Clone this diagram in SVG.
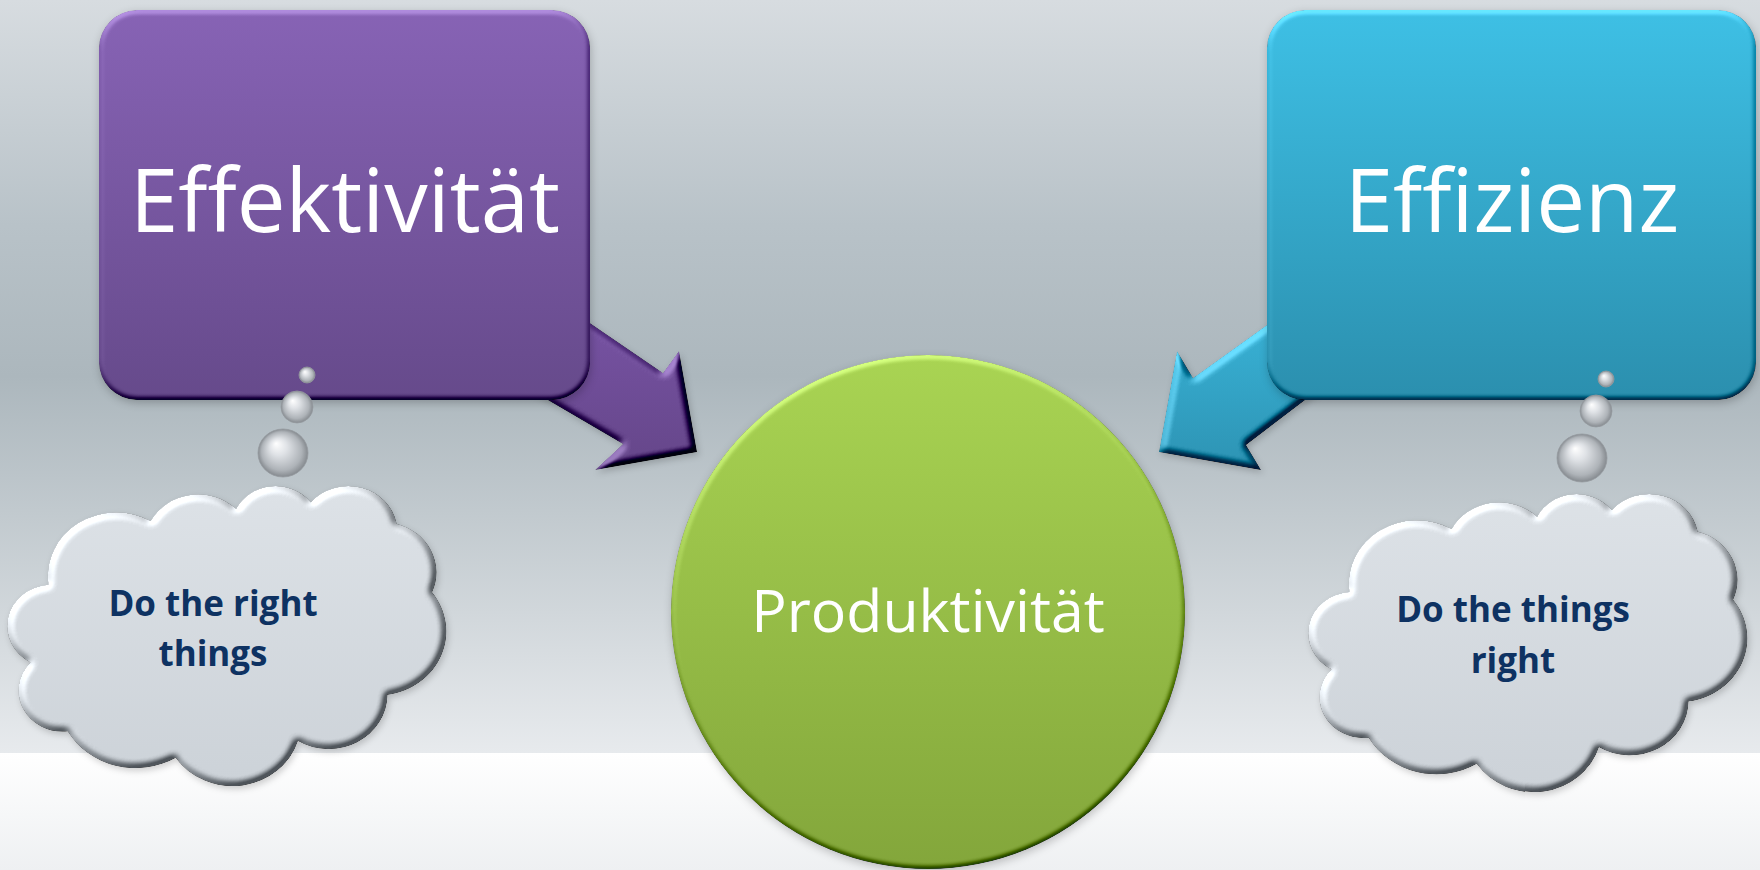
<svg xmlns="http://www.w3.org/2000/svg" xmlns:xlink="http://www.w3.org/1999/xlink" width="1760" height="870" viewBox="0 0 1760 870">
<style>
  .big { font-family: "Open Sans", "Liberation Sans", sans-serif; font-size: 87px; fill: #ffffff; text-anchor: middle; }
  .mid { font-family: "Open Sans", "Liberation Sans", sans-serif; font-size: 59px; fill: #ffffff; text-anchor: middle; }
  .thought { font-family: "Open Sans", "Liberation Sans", sans-serif; font-size: 35px; font-weight: 700; fill: #0e3262; text-anchor: middle; }
  .bubble { fill: url(#bubbleFill); stroke: #959aa0; stroke-width: 0.8; }
  .cloud { fill: url(#cloudFill); stroke: #a1a7ad; stroke-width: 1.2; }
</style>
<defs>
  <linearGradient id="bgTop" x1="0" y1="0" x2="0" y2="1">
    <stop offset="0" stop-color="#d7dce0"/>
    <stop offset="0.3" stop-color="#b8c2c8"/>
    <stop offset="0.5" stop-color="#acb7bd"/>
    <stop offset="1" stop-color="#e7eaed"/>
  </linearGradient>
  <linearGradient id="bgBottom" x1="0" y1="0" x2="0" y2="1">
    <stop offset="0" stop-color="#ffffff"/>
    <stop offset="1" stop-color="#eef0f2"/>
  </linearGradient>
  <linearGradient id="purpleFill" x1="0" y1="0" x2="0" y2="1">
    <stop offset="0" stop-color="#8763b5"/>
    <stop offset="1" stop-color="#664a8b"/>
  </linearGradient>
  <linearGradient id="cyanFill" x1="0" y1="0" x2="0" y2="1">
    <stop offset="0" stop-color="#3ec0e5"/>
    <stop offset="1" stop-color="#2b8fae"/>
  </linearGradient>
  <linearGradient id="greenFill" x1="0" y1="0" x2="0" y2="1">
    <stop offset="0" stop-color="#a9d453"/>
    <stop offset="1" stop-color="#83a63b"/>
  </linearGradient>
  <linearGradient id="purpleArrow" x1="0" y1="0" x2="0" y2="1">
    <stop offset="0" stop-color="#7a55a8"/>
    <stop offset="1" stop-color="#654689"/>
  </linearGradient>
  <linearGradient id="cyanArrow" x1="0" y1="0" x2="0" y2="1">
    <stop offset="0" stop-color="#3bb8dd"/>
    <stop offset="1" stop-color="#2d93b3"/>
  </linearGradient>
  <linearGradient id="cloudFill" x1="0" y1="0" x2="0" y2="1">
    <stop offset="0" stop-color="#dde2e7"/>
    <stop offset="1" stop-color="#ccd2d8"/>
  </linearGradient>
  <radialGradient id="bubbleFill" cx="0.5" cy="0.5" r="0.5" fx="0.36" fy="0.3">
    <stop offset="0" stop-color="#ffffff"/>
    <stop offset="0.35" stop-color="#dfe2e6"/>
    <stop offset="0.8" stop-color="#aeb3b8"/>
    <stop offset="1" stop-color="#858a8f"/>
  </radialGradient>
  <filter id="bevel" x="-10%" y="-10%" width="125%" height="125%" color-interpolation-filters="sRGB">
    <feGaussianBlur in="SourceAlpha" stdDeviation="3.5" result="blur"/>
    <feDiffuseLighting in="blur" surfaceScale="7" diffuseConstant="1" lighting-color="#ffffff" result="light">
      <feDistantLight azimuth="225" elevation="45"/>
    </feDiffuseLighting>
    <feComposite in="SourceGraphic" in2="light" operator="arithmetic" k1="0" k2="1" k3="0.7" k4="-0.495" result="lit"/>
    <feComposite in="lit" in2="SourceAlpha" operator="in" result="bev"/>
    <feGaussianBlur in="SourceAlpha" stdDeviation="3" result="sb"/>
    <feOffset in="sb" dx="2" dy="3" result="so"/>
    <feFlood flood-color="#000000" flood-opacity="0.18"/>
    <feComposite in2="so" operator="in" result="shadow"/>
    <feMerge><feMergeNode in="shadow"/><feMergeNode in="bev"/></feMerge>
  </filter>
  <filter id="soft" x="-10%" y="-10%" width="125%" height="125%" color-interpolation-filters="sRGB">
    <feGaussianBlur in="SourceAlpha" stdDeviation="2.5" result="blur"/>
    <feDiffuseLighting in="blur" surfaceScale="3" diffuseConstant="1" lighting-color="#ffffff" result="light">
      <feDistantLight azimuth="250" elevation="45"/>
    </feDiffuseLighting>
    <feComposite in="SourceGraphic" in2="light" operator="arithmetic" k1="0" k2="1" k3="0.6" k4="-0.424" result="lit"/>
    <feComposite in="lit" in2="SourceAlpha" operator="in" result="bev"/>
    <feGaussianBlur in="SourceAlpha" stdDeviation="4" result="sb"/>
    <feOffset in="sb" dx="1" dy="3" result="so"/>
    <feFlood flood-color="#000000" flood-opacity="0.22"/>
    <feComposite in2="so" operator="in" result="shadow"/>
    <feMerge><feMergeNode in="shadow"/><feMergeNode in="bev"/></feMerge>
  </filter>
  <path id="cloudShape" d="M3900 14370 A6753 9190 0 0 1 14005 5202 A5333 7267 0 0 1 22456 3432 A4365 5945 0 0 1 29833 2481 A4857 6595 0 0 1 38318 5576 A5333 7273 0 0 1 41819 15460 A6775 9220 0 0 1 37405 30203 A5785 7867 0 0 1 28556 36814 A6752 9215 0 0 1 16481 39264 A7720 10543 0 0 1 5806 35470 A4360 5918 0 0 1 2114 25548 A4345 5945 0 0 1 3900 14370 Z"/>
</defs>

<g id="background">
  <rect x="0" y="0" width="1760" height="753" fill="url(#bgTop)"/>
  <rect x="0" y="753" width="1760" height="117" fill="url(#bgBottom)"/>
</g>

<g id="connectors">
  <polygon id="arrow-effektivitaet" points="540,289 663,373 679,351 697,452 595,470 623,444 500,372" fill="url(#purpleArrow)" filter="url(#bevel)"/>
  <polygon id="arrow-effizienz" points="1317,289 1193,378 1177,351 1159,452 1261,470 1246,445 1355,362" fill="url(#cyanArrow)" filter="url(#bevel)"/>
</g>

<g id="node-effektivitaet">
  <rect x="99" y="10" width="491" height="390" rx="38" ry="38" fill="url(#purpleFill)" filter="url(#soft)"/>
  <text class="big" x="345" y="232">Effektivität</text>
</g>

<g id="node-effizienz">
  <rect x="1267" y="10" width="489" height="390" rx="38" ry="38" fill="url(#cyanFill)" filter="url(#soft)"/>
  <text class="big" x="1512" y="232">Effizienz</text>
</g>

<g id="node-produktivitaet">
  <circle cx="928" cy="612" r="257" fill="url(#greenFill)" filter="url(#soft)"/>
  <text class="mid" x="928" y="632">Produktivität</text>
</g>

<g id="thought-left">
  <circle class="bubble" cx="307" cy="375" r="8"/>
  <circle class="bubble" cx="297" cy="407" r="16"/>
  <ellipse class="bubble" cx="283" cy="453" rx="25" ry="24"/>
  <g filter="url(#bevel)">
    <use xlink:href="#cloudShape" href="#cloudShape" class="cloud" vector-effect="non-scaling-stroke" transform="translate(9,485) scale(0.010116,0.006944)"/>
  </g>
  <text class="thought"><tspan x="213" y="616">Do the right</tspan><tspan x="213" y="666">things</tspan></text>
</g>

<g id="thought-right">
  <circle class="bubble" cx="1606" cy="379" r="8"/>
  <circle class="bubble" cx="1596" cy="411" r="16"/>
  <ellipse class="bubble" cx="1582" cy="458" rx="25" ry="24"/>
  <g filter="url(#bevel)">
    <use xlink:href="#cloudShape" href="#cloudShape" class="cloud" vector-effect="non-scaling-stroke" transform="translate(1310,493) scale(0.010116,0.006898)"/>
  </g>
  <text class="thought"><tspan x="1513" y="622">Do the things</tspan><tspan x="1513" y="673">right</tspan></text>
</g>
</svg>
